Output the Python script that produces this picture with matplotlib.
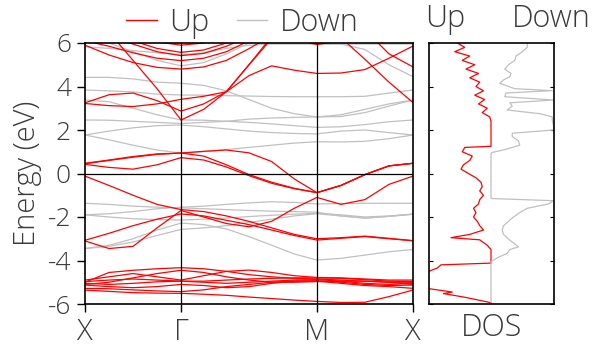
import numpy as np
import matplotlib
matplotlib.use('Agg')
from matplotlib import pyplot as plt
from matplotlib.lines import Line2D

plt.rcParams['font.family'] = ['Open Sans', 'DejaVu Sans']
plt.rcParams['font.weight'] = 'light'
plt.rcParams['axes.labelweight'] = 'light'

# k-path: X -> Gamma -> M -> X (square lattice), sampled points
kpath = [0.0, 0.125, 0.25, 0.375, 0.5,
         0.6179, 0.7357, 0.8536, 0.9714, 1.0893, 1.2071,
         1.3321, 1.4571, 1.5821, 1.7071]
klabels = ['X', 'Γ', 'M', 'X']
kticks = [0.0, 0.5, 1.2071, 1.7071]

# spin up bands (eV)
up_bands = [
    [7.6, 6.5, 5.2, 3.9, 2.46, 2.95, 3.76, 5.0, 6.3, 7.2, 7.6, 6.25, 5.25, 4.2, 3.26],
    [3.25, 3.62, 3.7, 3.35, 2.87, 3.2, 3.76, 4.5, 4.95, 4.75, 4.6, 4.62, 4.78, 5.3, 5.86],
    [3.22, 3.12, 3.08, 3.2, 3.41, 3.55, 3.76, 5.0, 6.2, 7.0, 7.5, 7.3, 6.6, 5.5, 4.9],
    [5.9, 5.45, 5.1, 4.88, 4.8, 4.9, 5.2, 5.74, 6.35, 7.0, 7.5, 7.5, 7.3, 7.0, 6.8],
    [6.1, 5.85, 5.55, 5.3, 5.19, 5.3, 5.6, 6.1, 6.7, 7.3, 7.6, 7.6, 7.4, 7.1, 6.9],
    [6.6, 6.3, 5.95, 5.6, 5.42, 5.52, 5.85, 6.3, 6.9, 7.4, 7.8, 7.8, 7.6, 7.3, 7.0],
    [7.0, 6.6, 6.1, 5.75, 5.57, 5.68, 6.0, 6.5, 7.0, 7.5, 7.9, 7.9, 7.7, 7.4, 7.2],
    [7.3, 6.9, 6.4, 6.05, 5.9, 6.0, 6.3, 6.6, 6.5, 6.15, 5.93, 6.1, 6.5, 6.8, 7.0],
    [0.47, 0.62, 0.78, 0.9, 0.94, 1.02, 1.08, 0.95, 0.55, -0.25, -0.88, -0.55, -0.05, 0.35, 0.47],
    [0.42, 0.28, 0.2, 0.4, 0.73, 0.62, 0.3, -0.1, -0.45, -0.7, -0.88, -0.55, -0.05, 0.35, 0.47],
    [0.45, 0.6, 0.75, 0.88, 0.94, 0.8, 0.4, -0.05, -0.4, -0.68, -0.88, -0.55, -0.05, 0.35, 0.47],
    [-0.12, -0.55, -1.0, -1.42, -1.66, -1.75, -1.95, -2.2, -2.5, -2.8, -3.0, -2.95, -2.88, -2.98, -3.09],
    [-3.07, -2.75, -2.4, -2.1, -1.86, -1.95, -2.15, -2.35, -2.6, -2.85, -3.06, -2.98, -2.9, -3.0, -3.09],
    [-3.1, -3.45, -3.35, -2.5, -1.7, -2.0, -2.3, -2.45, -2.2, -1.6, -1.1, -1.42, -1.2, -0.5, -0.12],
    [-5.0, -4.55, -4.45, -4.38, -4.33, -4.38, -4.5, -4.65, -4.75, -4.82, -4.85, -4.9, -4.95, -5.0, -5.0],
    [-4.9, -4.75, -4.6, -4.75, -4.9, -4.7, -4.5, -4.44, -4.55, -4.7, -4.78, -4.8, -4.85, -4.9, -4.9],
    [-4.97, -4.9, -4.85, -4.9, -4.95, -4.95, -4.9, -4.85, -4.82, -4.8, -4.8, -4.82, -4.88, -4.95, -4.97],
    [-5.05, -5.1, -5.05, -4.98, -4.95, -5.0, -5.05, -5.0, -4.95, -4.9, -4.88, -4.95, -5.05, -5.1, -5.05],
    [-5.13, -5.2, -5.25, -5.2, -5.1, -5.15, -5.25, -5.2, -5.05, -4.95, -4.93, -5.0, -5.1, -5.15, -5.13],
    [-5.28, -5.3, -5.35, -5.4, -5.43, -5.35, -5.2, -5.1, -5.0, -4.95, -4.95, -5.05, -5.15, -5.2, -5.28],
    [-5.36, -5.42, -5.48, -5.5, -5.51, -5.55, -5.6, -5.68, -5.75, -5.82, -5.88, -5.93, -5.92, -5.66, -5.36],
    [-5.1, -5.0, -4.8, -4.6, -4.45, -4.55, -4.75, -4.9, -5.0, -5.0, -4.97, -4.95, -4.95, -5.0, -5.1],
]

# spin down bands (eV)
down_bands = [
    [5.83, 5.75, 5.65, 5.55, 5.45, 5.55, 5.75, 5.9, 5.95, 5.95, 5.95, 5.95, 5.95, 5.95, 5.95],
    [6.2, 6.0, 5.6, 5.2, 4.95, 5.1, 5.5, 6.0, 6.3, 6.2, 5.95, 5.95, 5.7, 5.0, 4.45],
    [4.42, 4.42, 4.35, 4.2, 4.15, 4.05, 3.8, 3.4, 3.0, 2.75, 2.6, 2.62, 2.8, 3.1, 3.38],
    [3.84, 3.8, 3.75, 3.65, 3.61, 3.6, 3.58, 3.56, 3.54, 3.53, 3.53, 3.53, 3.55, 3.7, 3.84],
    [3.38, 3.3, 3.0, 2.7, 2.46, 2.45, 2.4, 2.35, 2.28, 2.2, 2.12, 2.15, 2.25, 2.38, 2.46],
    [2.46, 2.45, 2.4, 2.35, 2.3, 2.35, 2.4, 2.5, 2.55, 2.58, 2.6, 2.7, 2.95, 3.2, 3.38],
    [1.77, 1.95, 2.1, 2.2, 2.23, 2.15, 2.05, 1.95, 1.88, 1.84, 1.82, 1.95, 2.0, 1.88, 1.77],
    [1.77, 1.55, 1.3, 1.08, 0.94, 1.0, 1.1, 1.2, 1.3, 1.4, 1.46, 1.45, 1.48, 1.6, 1.77],
    [-1.37, -1.42, -1.5, -1.55, -1.58, -1.62, -1.66, -1.7, -1.73, -1.75, -1.78, -1.95, -2.05, -1.97, -1.87],
    [-1.9, -1.85, -1.75, -1.62, -1.55, -1.5, -1.42, -1.35, -1.3, -1.33, -1.4, -1.38, -1.37, -1.37, -1.37],
    [-1.9, -2.0, -2.08, -2.12, -2.14, -2.1, -2.05, -1.98, -1.92, -1.87, -1.83, -1.9, -2.0, -1.95, -1.87],
    [-3.45, -3.3, -3.0, -2.6, -2.28, -2.35, -2.55, -2.9, -3.3, -3.7, -3.98, -3.9, -3.75, -3.6, -3.49],
    [-3.45, -3.35, -3.15, -2.85, -2.57, -2.5, -2.4, -2.25, -2.1, -1.95, -1.85, -1.95, -2.05, -1.97, -1.87],
]

# density of states (arb. units)
dos_up_e = [6.0, 5.8, 5.6, 5.4, 5.2, 5.0, 4.8, 4.6, 4.4, 4.2, 4.0, 3.8, 3.6, 3.4, 3.2, 3.0,
            2.8, 2.6, 2.4, 1.25, 1.2, 1.0, 0.8, 0.6, 0.4, 0.2, 0.0, -0.2, -0.4, -0.6, -0.8,
            -1.0, -1.2, -1.4, -1.6, -1.8, -2.0, -2.2, -2.4, -2.6, -2.8, -2.95, -3.05, -3.3,
            -3.5, -4.12, -4.2, -4.35, -4.5, -4.8, -5.0, -5.2, -5.3, -5.45, -5.52, -5.7,
            -5.94, -6.0]
dos_up = [2.7, 2.1, 2.9, 1.7, 2.3, 1.3, 2.0, 1.0, 1.7, 0.9, 1.2, 0.6, 1.3, 0.5, 1.0, 0.3,
          0.7, 0.1, 0.0, 0.0, 2.1, 2.3, 1.5, 1.7, 2.2, 2.4, 1.8, 1.2, 0.8, 0.7, 0.9,
          0.6, 0.9, 1.0, 1.4, 1.2, 1.4, 1.1, 0.9, 0.6, 1.7, 3.2, 0.9, 0.3,
          0.0, 0.0, 4.0, 4.3, 5.0, 9.0, 10.0, 7.0, 4.9, 3.1, 3.8, 2.0,
          0.0, 0.0]
dos_dn_e = [6.0, 5.8, 5.6, 5.4, 5.2, 5.0, 4.8, 4.6, 4.45, 4.3, 4.15, 4.0, 3.9, 3.81, 3.7,
            3.53, 3.38, 3.25, 3.1, 2.92, 2.75, 2.6, 2.46, 2.2, 2.0, 1.85, 1.7, 1.5, 1.3,
            1.1, 0.96, 0.9, -1.15, -1.25, -1.4, -1.6, -1.8, -2.0, -2.2, -2.4, -2.6, -2.8,
            -3.06, -3.2, -3.37, -3.5, -3.67, -3.85, -4.05, -6.0]
dos_dn = [2.9, 2.9, 2.5, 2.0, 1.9, 1.4, 1.1, 1.6, 1.5, 1.0, 0.7, 1.4, 1.9, 4.9, 1.2,
          1.1, 5.0, 1.5, 1.7, 1.3, 3.9, 4.9, 4.9, 5.0, 5.0, 1.7, 1.7, 2.2, 2.3,
          1.1, 0.05, 0.0, 0.0, 5.0, 4.6, 2.9, 2.3, 1.8, 1.4, 1.0, 0.9, 1.0,
          1.5, 1.8, 2.2, 1.5, 1.3, 0.6, 0.0, 0.0]

UP_COLOR = '#ff0000'
DOWN_COLOR = '#c0c0c0'
TEXT_COLOR = '#3a3a3a'

fig = plt.figure(figsize=(6.01, 3.46), dpi=100)
ax = fig.add_axes([85 / 601, 42 / 346, 328 / 601, 261 / 346])
ax2 = fig.add_axes([429 / 601, 42 / 346, 125 / 601, 261 / 346])

for band in down_bands:
    ax.plot(kpath, band, color=DOWN_COLOR, lw=0.9)
for band in up_bands:
    ax.plot(kpath, band, color=UP_COLOR, lw=0.9)

for k in kticks[1:-1]:
    ax.axvline(k, color='black', lw=0.9)
ax.axhline(0, color='black', lw=0.9)

ax.set_xlim(kpath[0], kpath[-1])
ax.set_ylim(-6, 6)
ax.set_xticks(kticks)
ax.set_xticklabels(klabels, fontsize=21)
ax.set_yticks([-6, -4, -2, 0, 2, 4, 6])
ax.set_yticklabels(['-6', '-4', '-2', '0', '2', '4', '6'], fontsize=19)
ax.tick_params(axis='both', direction='out', length=6, width=1, colors='black',
               labelcolor=TEXT_COLOR, pad=4)
ax.set_ylabel('Energy (eV)', fontsize=21, color=TEXT_COLOR, fontweight='light')
for s in ax.spines.values():
    s.set_linewidth(1.2)

handles = [Line2D([], [], color=UP_COLOR, lw=1), Line2D([], [], color=DOWN_COLOR, lw=1)]
ax.legend(handles, ['Up', 'Down'], ncol=2, frameon=False, fontsize=22,
          loc='lower center', bbox_to_anchor=(0.48, 0.97), labelcolor=TEXT_COLOR,
          handlelength=1.0, columnspacing=0.9, borderaxespad=0, handletextpad=0.4)

ax2.plot([-v for v in dos_up], dos_up_e, color=UP_COLOR, lw=0.9)
ax2.plot(dos_dn, dos_dn_e, color=DOWN_COLOR, lw=0.9)
ax2.set_xlim(-4.96, 5.04)
ax2.set_ylim(-6, 6)
ax2.set_xticks([])
ax2.set_yticks([-6, -4, -2, 0, 2, 4, 6])
ax2.tick_params(axis='y', direction='in', length=3, left=True, right=True,
                labelleft=False)
ax2.set_xlabel('DOS', fontsize=22, color=TEXT_COLOR, labelpad=6, fontweight='light')
for s in ax2.spines.values():
    s.set_linewidth(1.2)
ax2.text(0.13, 1.03, 'Up', transform=ax2.transAxes, ha='center', va='bottom',
         fontsize=22, color=TEXT_COLOR)
ax2.text(0.98, 1.03, 'Down', transform=ax2.transAxes, ha='center', va='bottom',
         fontsize=22, color=TEXT_COLOR)

fig.savefig('out.png', dpi=100)
